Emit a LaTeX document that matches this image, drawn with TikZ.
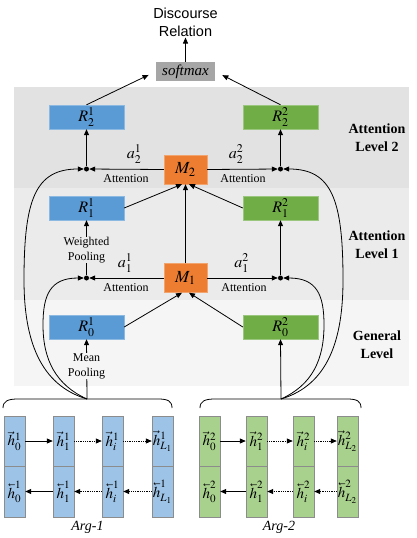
\documentclass[tikz,border=0pt]{standalone}
\usepackage{mathptmx}
\usepackage{fontspec}
\setmainfont{Liberation Serif}
\newfontfamily\arialfont{Liberation Sans}
\usetikzlibrary{arrows.meta}
\definecolor{bandA}{RGB}{226,226,226}
\definecolor{bandB}{RGB}{235,235,235}
\definecolor{bandC}{RGB}{245,245,245}
\definecolor{cBlue}{RGB}{91,155,213}
\definecolor{cGreen}{RGB}{112,173,71}
\definecolor{cOrange}{RGB}{237,125,49}
\definecolor{cGray}{RGB}{166,166,166}
\definecolor{cBlueL}{RGB}{157,195,230}
\definecolor{cGreenL}{RGB}{169,209,142}
\definecolor{cEdge}{RGB}{140,140,140}
\newcommand{\bwh}{{\reflectbox{$\vec{\reflectbox{$h$}}$}}}
\tikzset{
  arr/.style={-{Triangle[length=6pt,width=5pt]}, line width=0.8pt},
  rbox/.style={minimum width=75pt, minimum height=24pt, inner sep=0pt, font=\fontsize{16}{18}\selectfont},
  rblue/.style={rbox, fill=cBlue, draw=cBlue!70!white},
  rgreen/.style={rbox, fill=cGreen, draw=cGreen!70!white},
  mbox/.style={minimum width=43pt, minimum height=29pt, inner sep=0pt, fill=cOrange, draw=cOrange!70!white, font=\fontsize{17}{18}\selectfont},
  jdot/.style={circle, fill=black, inner sep=0pt, minimum size=5pt},
  lbl/.style={font=\fontsize{12}{15}\selectfont, align=center, inner sep=0.5pt},
  albl/.style={font=\fontsize{16}{18}\selectfont, inner sep=0.5pt},
  lvl/.style={font=\fontsize{14}{18}\selectfont\bfseries, align=center},
  cellA/.style={draw=cEdge, fill=cBlueL, minimum width=21pt, minimum height=50.5pt, inner sep=0pt, font=\fontsize{15}{16}\selectfont},
  cellB/.style={cellA, fill=cGreenL},
  fw/.style={-{Triangle[length=6pt,width=5pt]}, line width=0.8pt},
  fwd/.style={fw, densely dotted},
  brace/.style={line width=0.8pt}
}
\begin{document}
\begin{tikzpicture}[x=1pt,y=-1pt]
\useasboundingbox (0,0) rectangle (416,538);
% bands
\fill[bandA] (14,87) rectangle (409,188);
\fill[bandB] (14,188) rectangle (409,300);
\fill[bandC] (14,300) rectangle (409,386);
% level labels
\node[lvl] (lv2) at (377,138) {Attention\\Level 2};
\node[lvl] (lv1) at (377,245) {Attention\\Level 1};
\node[lvl] (lv0) at (377,345) {General\\Level};
% top
\node[font=\arialfont\fontsize{14.5}{18}\selectfont, align=center, inner sep=1pt] (dr) at (185.5,22) {Discourse\\Relation};
\node[fill=cGray, minimum width=59pt, minimum height=19pt, inner sep=0pt, font=\fontsize{15}{16}\selectfont] (sm) at (185.5,71.5) {\textit{softmax}};
% boxes
\node[rblue] (R2a) at (86.5,117) {$R_2^1$};
\node[rgreen] (R2b) at (280.5,117) {$R_2^2$};
\node[mbox] (M2) at (185.5,169.5) {$M_2$};
\node[rblue] (R1a) at (86.5,208) {$R_1^1$};
\node[rgreen] (R1b) at (280.5,208) {$R_1^2$};
\node[mbox] (M1) at (185.5,278) {$M_1$};
\node[rblue] (R0a) at (86.5,327) {$R_0^1$};
\node[rgreen] (R0b) at (280.5,327) {$R_0^2$};
% dots
\node[jdot] (dl2) at (86.5,169) {};
\node[jdot] (dr2) at (280.5,169) {};
\node[jdot] (dl1) at (86.5,278) {};
\node[jdot] (dr1) at (280.5,278) {};
% labels
\node[albl] (a21) at (134,154) {$a_2^1$};
\node[albl] (a22) at (236,154) {$a_2^2$};
\node[albl] (a11) at (125,263) {$a_1^1$};
\node[albl] (a12) at (241.5,263) {$a_1^2$};
\node[lbl] (t2l) at (126,179) {Attention};
\node[lbl] (t2r) at (243,179) {Attention};
\node[lbl] (t1l) at (126,288) {Attention};
\node[lbl] (t1r) at (244,288) {Attention};
% connectors upper
\draw[arr] (sm.north) -- (dr.south);
\draw[arr, shorten >=8pt] (R2a.north) -- (sm.west);
\draw[arr, shorten >=8pt] (R2b.north) -- (sm.east);
\draw[arr] (M2.west) -- (dl2);
\draw[arr] (M2.east) -- (dr2);
\draw[arr] (dl2) -- (R2a.south);
\draw[arr] (dr2) -- (R2b.south);
\draw[arr] (M1.north) -- (M2.south);
\draw[arr] (R1a.east) -- ([xshift=-3.5pt]M2.south);
\draw[arr] (R1b.west) -- ([xshift=3.5pt]M2.south);
\draw[arr] (M1.west) -- (dl1);
\draw[arr] (M1.east) -- (dr1);
\draw[arr] (dl1) -- (R1a.south);
\draw[arr] (dr1) -- (R1b.south);
\draw[arr] (R0a.east) -- ([xshift=-3.5pt]M1.south);
\draw[arr] (R0b.west) -- ([xshift=3.5pt]M1.south);
\node[lbl, fill=bandB] (wp) at (86.5,250) {Weighted\\Pooling};
% LSTM cells
\foreach \n/\x/\s in {0/14.5/0, 1/63.5/1, i/112.5/i, L/162.5/{L_1}}{
  \node[cellA] (at\n) at (\x,441) {\makebox[0pt]{$\vec{h}^1_{\s}$}};
  \node[cellA] (ab\n) at (\x,491.5) {\makebox[0pt]{$\bwh^1_{\s}$}};
}
\foreach \n/\x/\s in {0/209.5/0, 1/256.5/1, i/303.5/i, L/347.5/{L_2}}{
  \node[cellB] (bt\n) at (\x,441) {\makebox[0pt]{$\vec{h}^2_{\s}$}};
  \node[cellB] (bb\n) at (\x,491.5) {\makebox[0pt]{$\bwh^2_{\s}$}};
}
\draw[fw] (at0.east) -- (at1.west);
\draw[fwd] (at1.east) -- (ati.west);
\draw[fwd] (ati.east) -- (atL.west);
\draw[fw] (ab1.west) -- (ab0.east);
\draw[fwd] (abi.west) -- (ab1.east);
\draw[fwd] (abL.west) -- (abi.east);
\draw[fw] (bt0.east) -- (bt1.west);
\draw[fwd] (bt1.east) -- (bti.west);
\draw[fwd] (bti.east) -- (btL.west);
\draw[fw] (bb1.west) -- (bb0.east);
\draw[fwd] (bbi.west) -- (bb1.east);
\draw[fwd] (bbL.west) -- (bbi.east);
% braces
\coordinate (b1) at (87,399);
\coordinate (b2) at (281,399);
\draw[brace] (3,408) .. controls (3,401) and (8,399) .. (18,399) -- (158,399) .. controls (168,399) and (172,401) .. (172,408);
\draw[brace] (200,408) .. controls (200,401) and (205,399) .. (215,399) -- (347,399) .. controls (357,399) and (361,401) .. (361,408);
\node[font=\fontsize{14}{15}\selectfont\itshape] (arg1) at (87.5,527) {Arg-1};
\node[font=\fontsize{14}{15}\selectfont\itshape] (arg2) at (279,527) {Arg-2};
% pooling lines
\draw[arr] (b1) -- (R0a.south);
\node[lbl, fill=bandC] (mp) at (86.5,366) {Mean\\Pooling};
\draw[arr] (b2) -- (R0b.south);
% curves
\draw[arr] (b1) .. controls (40,385) and (24,340) .. (24,280) .. controls (24,200) and (35,169) .. (dl2.west);
\draw[arr] (b1) .. controls (56,385) and (43,360) .. (43,325) .. controls (43,295) and (50,278) .. (dl1.west);
\draw[arr] (b2) .. controls (328,385) and (343,340) .. (343,280) .. controls (343,200) and (332,169) .. (dr2.east);
\draw[arr] (b2) .. controls (312,385) and (324,360) .. (324,325) .. controls (324,295) and (317,278) .. (dr1.east);
\end{tikzpicture}
\end{document}
